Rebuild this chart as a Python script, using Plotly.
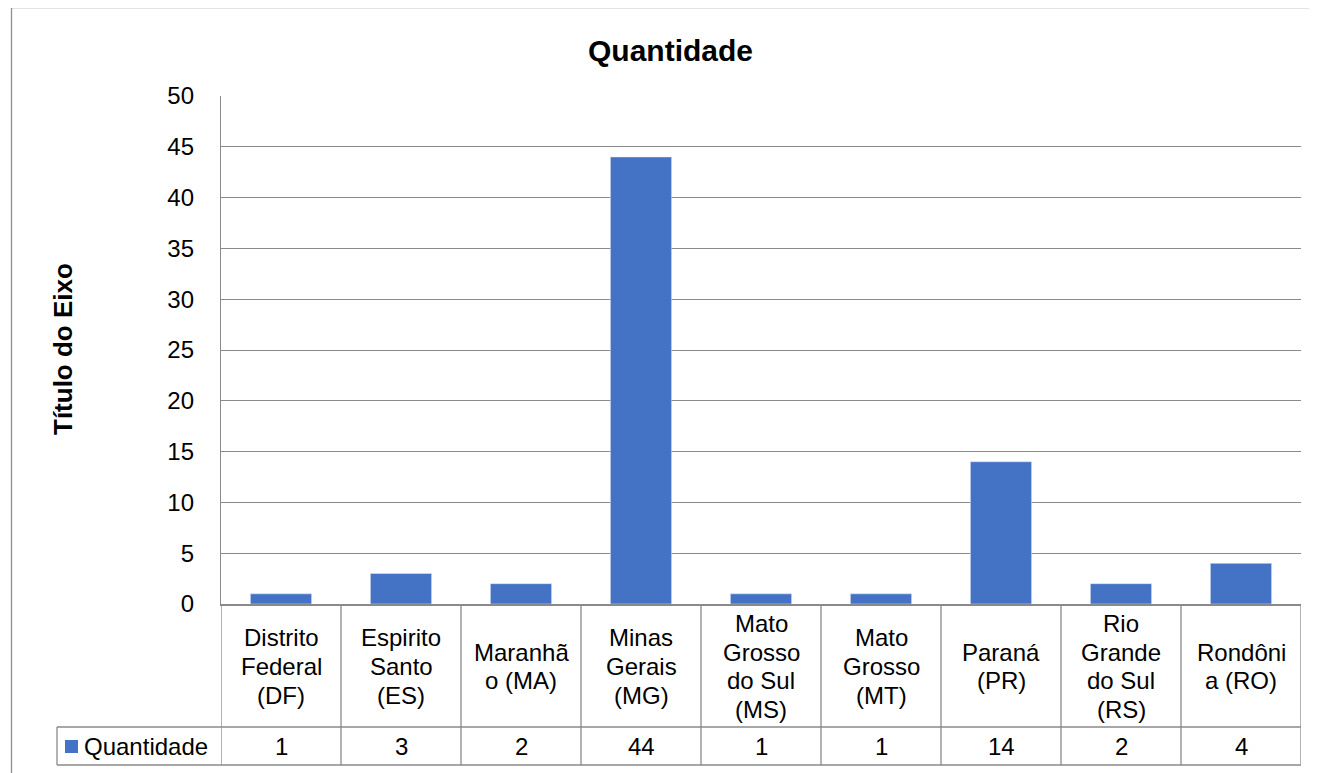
import plotly.graph_objects as go

# ---- data ----
categories = ["Distrito Federal (DF)", "Espirito Santo (ES)", "Maranhão (MA)", "Minas Gerais (MG)",
              "Mato Grosso do Sul (MS)", "Mato Grosso (MT)", "Paraná (PR)", "Rio Grande do Sul (RS)",
              "Rondônia (RO)"]
category_lines = [["Distrito", "Federal", "(DF)"],
                  ["Espirito", "Santo", "(ES)"],
                  ["Maranhã", "o (MA)"],
                  ["Minas", "Gerais", "(MG)"],
                  ["Mato", "Grosso", "do Sul", "(MS)"],
                  ["Mato", "Grosso", "(MT)"],
                  ["Paraná", "(PR)"],
                  ["Rio", "Grande", "do Sul", "(RS)"],
                  ["Rondôni", "a (RO)"]]
values = [1, 3, 2, 44, 1, 1, 14, 2, 4]
series_name = "Quantidade"
chart_title = "Quantidade"
y_title = "Título do Eixo"
y_ticks = [0, 5, 10, 15, 20, 25, 30, 35, 40, 45, 50]

# ---- layout constants (target page pixels) ----
OFF = 8  # default body margin of the page
W, H = 1317 - OFF, 773 - OFF
PL, PR, PT, PB = 221, 1301, 96, 604
PW, PH = PR - PL, PB - PT
FONT = "Arial, Liberation Sans, sans-serif"
BLUE = "#4472C4"
GRID = "#8a8a8a"
BORDER = "#8f8f8f"
TXT = 24

def px_x(p):
    return (p - PL) / PW

def px_y(p):
    return (PB - p) / PH

n = len(categories)
fig = go.Figure(go.Bar(x=list(range(n)), y=values, marker_color=BLUE, name=series_name,
                       showlegend=False, hoverinfo="y"))

shapes = []
annotations = []

# chart border
shapes.append(dict(type="rect", xref="paper", yref="paper",
                   x0=px_x(11.5), x1=px_x(1340), y0=px_y(7.5), y1=px_y(800),
                   line=dict(color=BORDER, width=1.3), fillcolor="rgba(0,0,0,0)", layer="below"))

row1_bottom = 727
row2_bottom = 765
legend_left = 57
# vertical lines of table
for i in range(n + 1):
    shapes.append(dict(type="line", xref="x", yref="paper", x0=i - 0.5, x1=i - 0.5,
                       y0=0, y1=px_y(row2_bottom), line=dict(color=GRID, width=1.3)))
# horizontal lines of table
for yy in (row1_bottom, row2_bottom):
    shapes.append(dict(type="line", xref="paper", yref="paper", x0=px_x(legend_left), x1=1,
                       y0=px_y(yy), y1=px_y(yy), line=dict(color=GRID, width=1.3)))
shapes.append(dict(type="line", xref="paper", yref="paper", x0=px_x(legend_left), x1=px_x(legend_left),
                   y0=px_y(row1_bottom), y1=px_y(row2_bottom), line=dict(color=GRID, width=1.3)))
# legend key
shapes.append(dict(type="rect", xref="paper", yref="paper", x0=px_x(65), x1=px_x(78),
                   y0=px_y(740), y1=px_y(753), line=dict(width=0), fillcolor=BLUE))
annotations.append(dict(text=series_name, xref="paper", yref="paper", x=px_x(82), y=px_y(746.5),
                        xanchor="left", yanchor="middle", showarrow=False,
                        font=dict(family=FONT, size=TXT, color="#000")))

# category labels
LS = 28.7
mid1 = (PB + row1_bottom) / 2 + 1
for i, lines in enumerate(category_lines):
    m = len(lines)
    for k, t in enumerate(lines):
        yy = mid1 + (k - (m - 1) / 2) * LS
        annotations.append(dict(text=t, xref="x", yref="paper", x=i, y=px_y(yy),
                                xanchor="center", yanchor="middle", showarrow=False,
                                font=dict(family=FONT, size=TXT, color="#000")))
# value row
for i, v in enumerate(values):
    annotations.append(dict(text=str(v), xref="x", yref="paper", x=i, y=px_y(746.5),
                            xanchor="center", yanchor="middle", showarrow=False,
                            font=dict(family=FONT, size=TXT, color="#000")))

# axis title
annotations.append(dict(text="<b>" + y_title + "</b>", xref="paper", yref="paper",
                        x=px_x(63), y=px_y(349), textangle=-90, xanchor="center", yanchor="middle",
                        showarrow=False, font=dict(family=FONT, size=26, color="#000")))
# chart title
annotations.append(dict(text="<b>" + chart_title + "</b>", xref="paper", yref="paper",
                        x=px_x(670), y=px_y(51), xanchor="center", yanchor="middle",
                        showarrow=False, font=dict(family=FONT, size=30, color="#000")))

fig.update_layout(
    width=W, height=H,
    margin=dict(l=PL - OFF, r=W - (PR - OFF), t=PT - OFF, b=H - (PB - OFF), pad=0),
    plot_bgcolor="white", paper_bgcolor="white",
    bargap=0.49,
    shapes=shapes, annotations=annotations,
    xaxis=dict(range=[-0.5, n - 0.5], showticklabels=False, showgrid=False, zeroline=False,
               showline=True, linecolor=GRID, linewidth=1.5, ticks="", fixedrange=True),
    yaxis=dict(range=[0, 50], tickvals=y_ticks, showgrid=True, gridcolor=GRID, gridwidth=1.3,
               zeroline=False, showline=True, linecolor=GRID, linewidth=1.3, ticks="",
               ticklabelstandoff=21,
               tickfont=dict(family=FONT, size=TXT, color="#000"), fixedrange=True),
)

fig.write_html("out.html")
